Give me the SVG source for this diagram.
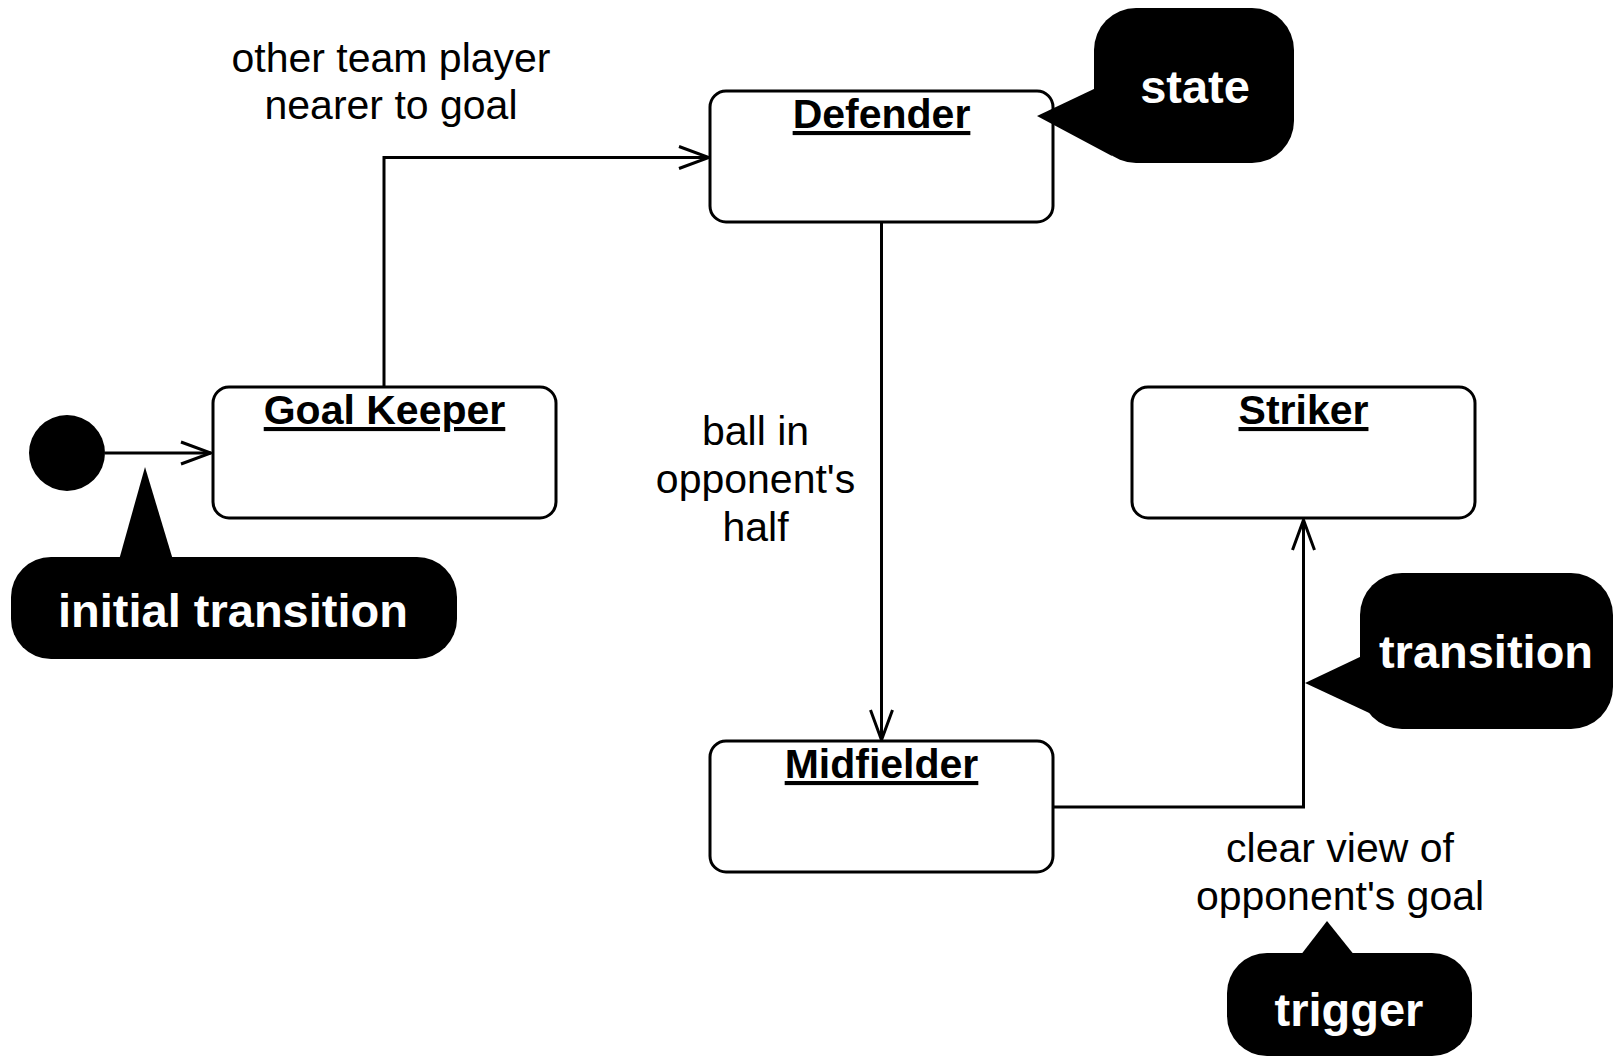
<svg xmlns="http://www.w3.org/2000/svg" width="1614" height="1058" viewBox="0 0 1614 1058">
  <style>
    .state { fill: #fff; stroke: #000; stroke-width: 3; }
    .name { font-family: "Liberation Sans", Arial, Helvetica, sans-serif; font-size: 41px; font-weight: bold; text-anchor: middle; text-decoration: underline; fill: #000; }
    .label { font-family: "Liberation Sans", Arial, Helvetica, sans-serif; font-size: 41px; text-anchor: middle; fill: #000; }
    .edge { fill: none; stroke: #000; stroke-width: 3; }
    .note { fill: #000; }
    .note-text { font-family: "Liberation Sans", Arial, Helvetica, sans-serif; font-size: 47px; font-weight: bold; text-anchor: middle; fill: #fff; }
  </style>
  <defs>
    <marker id="open-arrow" viewBox="0 0 34 26" refX="32" refY="13" markerWidth="34" markerHeight="26" markerUnits="userSpaceOnUse" orient="auto">
      <path d="M2,2 L32,13 L2,24" fill="none" stroke="#000" stroke-width="3"/>
    </marker>
  </defs>

  <rect width="1614" height="1058" fill="#fff"/>

  <!-- transitions between states -->
  <g id="connectors">
    <path class="edge" d="M105,453 H211" marker-end="url(#open-arrow)"/>
    <path class="edge" d="M384,387 V157.5 H709" marker-end="url(#open-arrow)"/>
    <path class="edge" d="M881.5,222 V740" marker-end="url(#open-arrow)"/>
    <path class="edge" d="M1053,807 H1303.5 V520" marker-end="url(#open-arrow)"/>
  </g>

  <!-- transition labels -->
  <g id="label-gk-def">
    <text class="label" x="391" y="72">other team player</text>
    <text class="label" x="391" y="119">nearer to goal</text>
  </g>
  <g id="label-def-mid">
    <text class="label" x="755.5" y="445">ball in</text>
    <text class="label" x="755.5" y="493">opponent's</text>
    <text class="label" x="755.5" y="541">half</text>
  </g>
  <g id="label-mid-str">
    <text class="label" x="1340" y="862">clear view of</text>
    <text class="label" x="1340" y="910">opponent's goal</text>
  </g>

  <!-- initial pseudo-state -->
  <g id="initial">
    <circle cx="67" cy="453" r="38" fill="#000"/>
  </g>

  <!-- states -->
  <g id="goal-keeper">
    <rect class="state" x="213" y="387" width="343" height="131" rx="16"/>
    <text class="name" x="384.5" y="424">Goal Keeper</text>
  </g>
  <g id="defender">
    <rect class="state" x="710" y="91" width="343" height="131" rx="16"/>
    <text class="name" x="881.5" y="128">Defender</text>
  </g>
  <g id="midfielder">
    <rect class="state" x="710" y="741" width="343" height="131" rx="16"/>
    <text class="name" x="881.5" y="778">Midfielder</text>
  </g>
  <g id="striker">
    <rect class="state" x="1132" y="387" width="343" height="131" rx="16"/>
    <text class="name" x="1303.5" y="424">Striker</text>
  </g>

  <!-- callout notes -->
  <g id="note-state">
    <rect class="note" x="1094" y="8" width="200" height="155" rx="42"/>
    <polygon class="note" points="1096,88 1037,116 1112,156"/>
    <text class="note-text" x="1195" y="103">state</text>
  </g>
  <g id="note-initial">
    <rect class="note" x="11" y="557" width="446" height="102" rx="40"/>
    <polygon class="note" points="119,560 145,467 173,560"/>
    <text class="note-text" x="233" y="627">initial transition</text>
  </g>
  <g id="note-transition">
    <rect class="note" x="1360" y="573" width="253" height="156" rx="42"/>
    <polygon class="note" points="1362,656 1305,683 1380,718"/>
    <text class="note-text" x="1486" y="668">transition</text>
  </g>
  <g id="note-trigger">
    <rect class="note" x="1227" y="953" width="245" height="103" rx="40"/>
    <polygon class="note" points="1300,956 1327,921 1355,956"/>
    <text class="note-text" x="1349" y="1026">trigger</text>
  </g>
</svg>
